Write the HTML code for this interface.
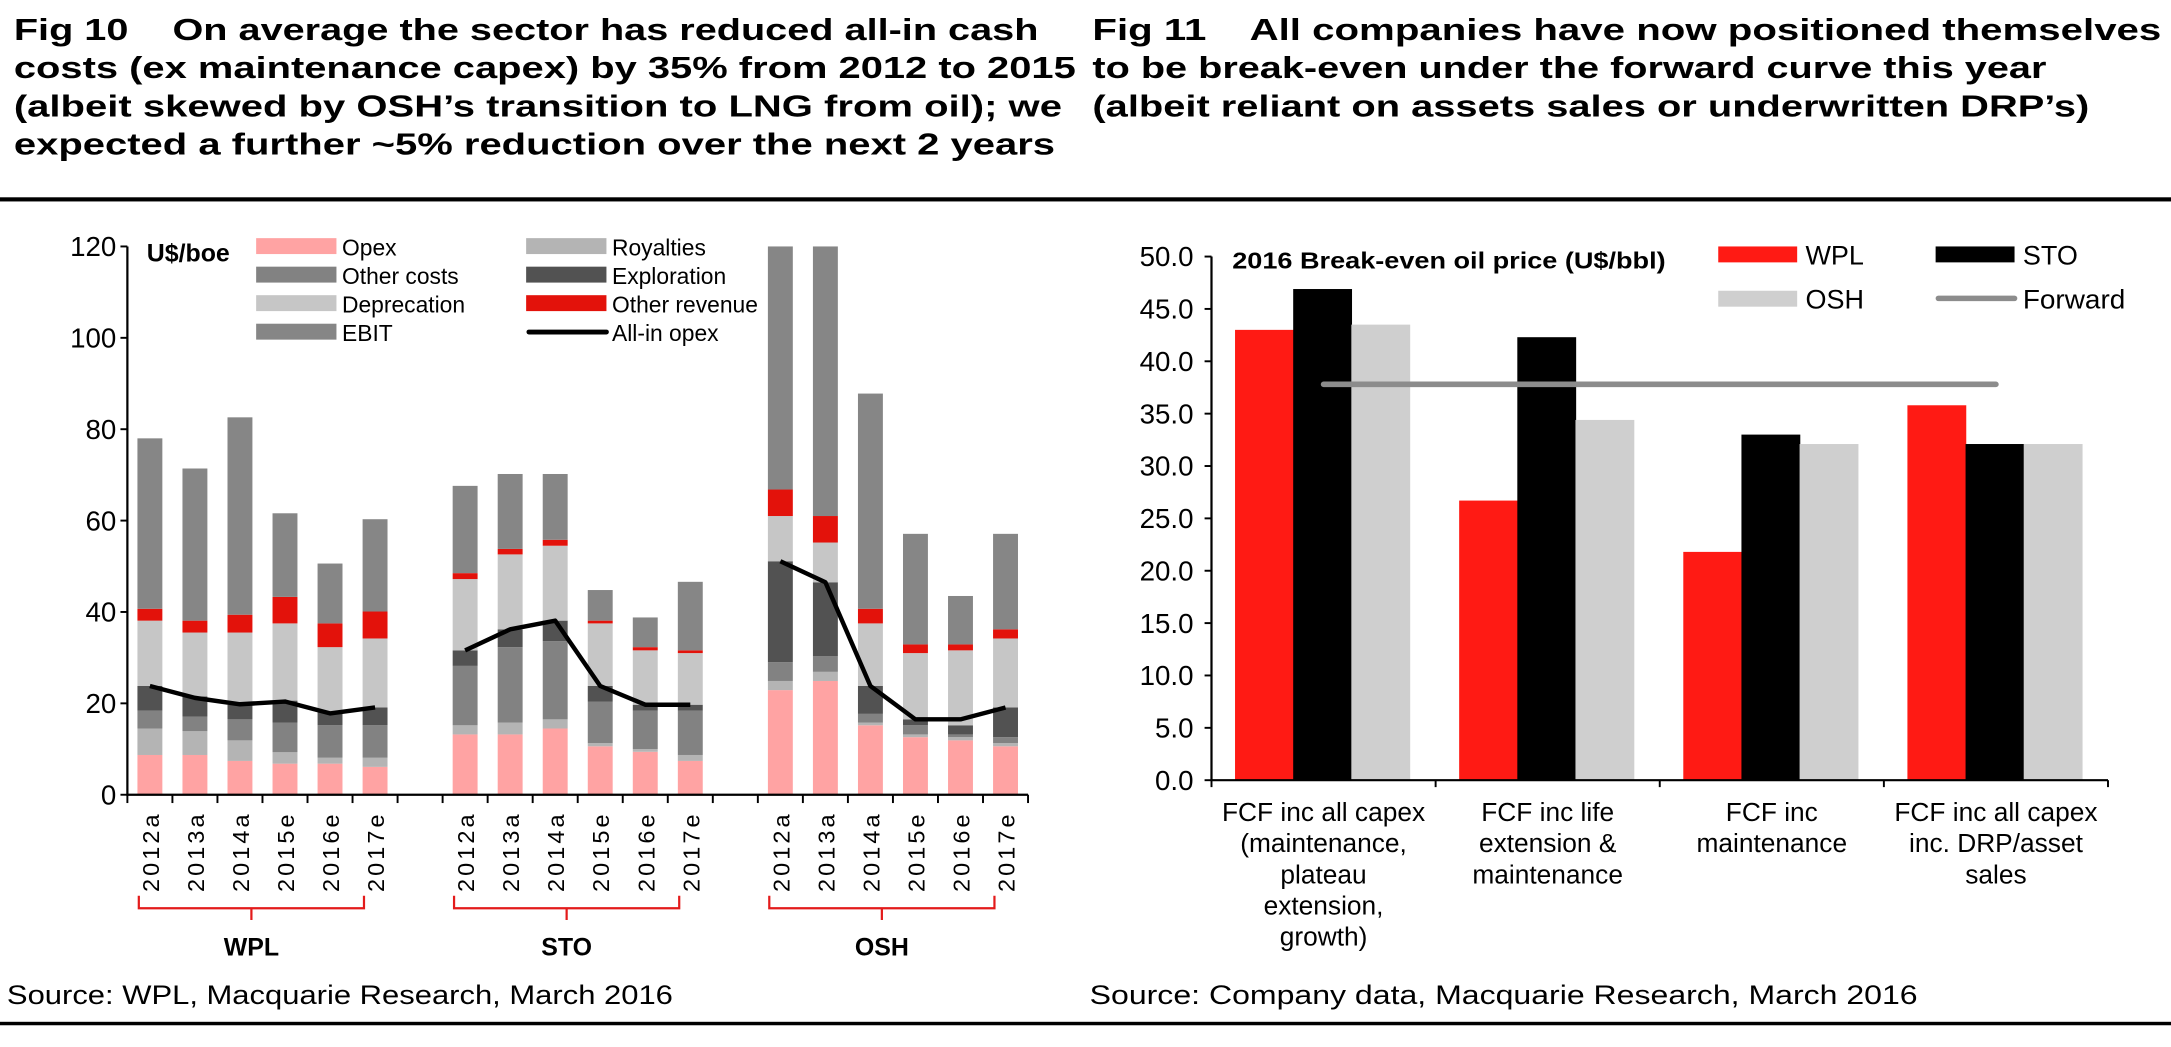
<!DOCTYPE html>
<html><head><meta charset="utf-8"><style>
html,body{margin:0;padding:0;background:#fff;}
svg{display:block;font-family:"Liberation Sans",Arial,sans-serif;}
</style></head><body>
<svg id="root" width="2171" height="1047" viewBox="0 0 1568 756.2" preserveAspectRatio="none" xmlns="http://www.w3.org/2000/svg">
<g font-weight="bold" font-size="22">
<text x="10" y="29" textLength="740" lengthAdjust="spacingAndGlyphs" xml:space="preserve">Fig 10    On average the sector has reduced all-in cash</text>
<text x="10" y="56.5" textLength="767" lengthAdjust="spacingAndGlyphs">costs (ex maintenance capex) by 35% from 2012 to 2015</text>
<text x="10" y="84" textLength="757" lengthAdjust="spacingAndGlyphs">(albeit skewed by OSH’s transition to LNG from oil); we</text>
<text x="10" y="111.5" textLength="752" lengthAdjust="spacingAndGlyphs">expected a further ~5% reduction over the next 2 years</text>
</g>
<g font-weight="bold" font-size="22">
<text x="789" y="29" textLength="772" lengthAdjust="spacingAndGlyphs" xml:space="preserve">Fig 11    All companies have now positioned themselves</text>
<text x="789" y="56.5" textLength="689" lengthAdjust="spacingAndGlyphs">to be break-even under the forward curve this year</text>
<text x="789" y="84" textLength="720" lengthAdjust="spacingAndGlyphs">(albeit reliant on assets sales or underwritten DRP’s)</text>
</g>
<rect x="0" y="142.5" width="1568" height="3" fill="#000"/>
<rect x="0" y="738" width="1568" height="2.5" fill="#000"/>
<text x="5" y="725" font-size="19.5" textLength="481" lengthAdjust="spacingAndGlyphs">Source: WPL, Macquarie Research, March 2016</text>
<text x="787" y="725" font-size="19.5" textLength="598" lengthAdjust="spacingAndGlyphs">Source: Company data, Macquarie Research, March 2016</text>
<g id="left"></g>
<g id="right"></g>
</svg>
<script>
// ---------- Fig 10 data ----------
const years = ['2012a','2013a','2014a','2015e','2016e','2017e'];
const companies = ['WPL','STO','OSH'];
const yTicksL = [0,20,40,60,80,100,120];
const opex        = [8.7,8.7,7.4,6.8,6.8,6.1, 13.2,13.2,14.5,10.6,9.4,7.4, 22.9,24.9,15.2,12.6,11.9,10.6];
const royalties   = [5.8,5.2,4.5,2.5,1.3,2.0, 2.0,2.6,2.0,0.7,0.6,1.3, 2.0,2.0,0.6,0.6,0.7,0.7];
const otherCosts  = [3.9,3.2,4.6,6.5,7.1,7.1, 13.0,16.5,17.1,9.1,8.4,9.7, 4.1,3.4,1.9,2.0,0.6,1.3];
const exploration = [5.4,4.4,3.2,4.8,3.0,3.9, 3.4,3.9,4.5,3.4,1.3,1.3, 22.1,16.2,6.1,1.3,2.0,6.5];
const deprecation = [14.3,14.0,15.8,16.9,14.1,15.1, 15.6,16.4,16.4,13.7,11.9,11.3, 9.9,8.7,13.7,14.5,16.4,15.1];
const otherRevenue= [2.6,2.6,3.9,5.8,5.2,5.9, 1.3,1.2,1.3,0.6,0.7,0.6, 5.8,5.8,3.2,1.9,1.3,2.0];
const ebit        = [37.3,33.3,43.2,18.3,13.1,20.2, 19.1,16.4,14.4,6.7,6.5,15.0, 53.2,59.0,47.1,24.2,10.6,20.9];
const allInOpex   = [23.8,21.2,19.8,20.4,17.8,19.1, 31.6,36.2,38.1,23.8,19.7,19.7, 51.1,46.5,23.8,16.5,16.5,19.1];

// ---------- Fig 11 data ----------
const cats = [['FCF inc all capex','(maintenance,','plateau','extension,','growth)'],['FCF inc life','extension &','maintenance'],['FCF inc','maintenance'],['FCF inc all capex','inc. DRP/asset','sales']];
const wpl = [43.0,26.7,21.8,35.8];
const sto = [46.9,42.3,33.0,32.1];
const osh = [43.5,34.4,32.1,32.1];
const forward = [37.8,37.8,37.8,37.8];
const yTicksR = [0,5,10,15,20,25,30,35,40,45,50];

const NS='http://www.w3.org/2000/svg';
function mk(p,tag,a,txt){const e=document.createElementNS(NS,tag);for(const k in a)e.setAttribute(k,a[k]);if(txt!==undefined)e.textContent=txt;p.appendChild(e);return e;}

// ---- left chart
(function(){
const g=document.getElementById('left');
const X0=92, X1=742.5, Y0=574, Y1=178, slots=20, sw=(X1-X0)/slots, bw=18;
const y=v=>Y0-(v/120)*(Y0-Y1);
const slotOf=i=>Math.floor(i/6)*7+(i%6);
const cx=i=>X0+(slotOf(i)+0.5)*sw;
const series=[[opex,'#FFA3A3','opex'],[royalties,'#B4B4B4','royalties'],[otherCosts,'#828282','other-costs'],[exploration,'#525252','exploration'],[deprecation,'#C6C6C6','deprecation'],[otherRevenue,'#E3120B','other-revenue'],[ebit,'#868686','ebit']];
for(let i=0;i<opex.length;i++){
  let base=0;
  series.forEach(s=>{const v=s[0][i];
    const r=mk(g,'rect',{x:cx(i)-bw/2,y:y(base+v),width:bw,height:y(base)-y(base+v),fill:s[1]});
    
    
    base+=v;});
  const t=mk(g,'text',{x:0,y:0,'font-size':17,'text-anchor':'end','letter-spacing':'2.2',transform:'translate('+(cx(i)+6.5)+',586) rotate(-90)'},years[i%6]);
  
  
}
for(let c=0;c<3;c++){
  let d='';for(let k=0;k<6;k++){const i=c*6+k;d+=(k?'L':'M')+cx(i)+','+y(allInOpex[i]);}
  const p=mk(g,'path',{d:d,fill:'none',stroke:'#000','stroke-width':3.2,'stroke-linejoin':'round'});
  
  
}
const ax=mk(g,'path',{d:'M'+X0+','+Y1+'V'+Y0+'H'+X1,fill:'none',stroke:'#000','stroke-width':1.6});


yTicksL.forEach(v=>{mk(g,'line',{x1:X0-5,x2:X0,y1:y(v),y2:y(v),stroke:'#000','stroke-width':1.4});
  const t=mk(g,'text',{x:84,y:y(v)+7,'font-size':20,'text-anchor':'end'},v);
  
  });
for(let s=0;s<=slots;s++){mk(g,'line',{x1:X0+s*sw,x2:X0+s*sw,y1:Y0,y2:Y0+6,stroke:'#000','stroke-width':1.4});}
for(let c=0;c<3;c++){
  const a=cx(c*6)-8, b=cx(c*6+5)-8, m=(a+b)/2;
  const p=mk(g,'path',{d:'M'+a+',647V656H'+b+'V647M'+m+',656V664.5',fill:'none',stroke:'#E31B1B','stroke-width':1.6});
  
  
  const t=mk(g,'text',{x:m,y:690,'font-size':18,'font-weight':'bold','text-anchor':'middle'},companies[c]);
  
  
}
const u=mk(g,'text',{x:106,y:189,'font-size':18,'font-weight':'bold'},'U$/boe');


const leg=[['Opex','#FFA3A3',185,0],['Other costs','#828282',185,1],['Deprecation','#C6C6C6',185,2],['EBIT','#868686',185,3],['Royalties','#B4B4B4',380,0],['Exploration','#525252',380,1],['Other revenue','#E3120B',380,2]];
leg.forEach(l=>{const yy=172+l[3]*20.6;
  const r=mk(g,'rect',{x:l[2],y:yy,width:58,height:11.5,fill:l[1]});
  
  
  const t=mk(g,'text',{x:l[2]+62,y:yy+12.5,'font-size':16.5},l[0]);
  
  });
const ll=mk(g,'line',{x1:382,x2:438,y1:172+3*20.6+6,y2:172+3*20.6+6,stroke:'#000','stroke-width':3.5,'stroke-linecap':'round'});


const lt=mk(g,'text',{x:442,y:172+3*20.6+12.5,'font-size':16.5},'All-in opex');


})();

// ---- right chart
(function(){
const g=document.getElementById('right');
const X0=875, X1=1522.5, Y0=563.5, Y1=185.3, n=4, gw=(X1-X0)/n, bw=42;
const y=v=>Y0-(v/50)*(Y0-Y1);
const gx=i=>X0+i*gw+17;
const ser=[[wpl,'#FF1A14','wpl'],[sto,'#000000','sto'],[osh,'#CFCFCF','osh']];
for(let i=0;i<n;i++){
  ser.forEach((s,k)=>{const r=mk(g,'rect',{x:gx(i)+k*bw,y:y(s[0][i]),width:bw+0.5,height:Y0-y(s[0][i]),fill:s[1]});
    
    });
  cats[i].forEach((ln,j)=>{const t=mk(g,'text',{x:X0+(i+0.5)*gw,y:593+j*22.5,'font-size':19,'text-anchor':'middle'},ln);
    
    });
}
let d='';forward.forEach((v,i)=>{d+=(i?'L':'M')+(X0+(i+0.5)*gw)+','+y(v);});
const fl=mk(g,'path',{d:d,fill:'none',stroke:'#8C8C8C','stroke-width':4,'stroke-linecap':'round'});


const ax=mk(g,'path',{d:'M'+X0+','+Y1+'V'+Y0+'H'+X1,fill:'none',stroke:'#000','stroke-width':1.6});


yTicksR.forEach(v=>{mk(g,'line',{x1:X0-5,x2:X0,y1:y(v),y2:y(v),stroke:'#000','stroke-width':1.4});
  const t=mk(g,'text',{x:862,y:y(v)+7,'font-size':20,'text-anchor':'end'},v.toFixed(1));
  
  });
for(let i=0;i<=n;i++){mk(g,'line',{x1:X0+i*gw,x2:X0+i*gw,y1:Y0,y2:Y0+5,stroke:'#000','stroke-width':1.4});}
const tt=mk(g,'text',{x:890,y:194,'font-size':17,'font-weight':'bold',textLength:313,lengthAdjust:'spacingAndGlyphs'},'2016 Break-even  oil price (U$/bbl)');


const leg=[['WPL','#FF1A14',1241,178],['STO','#000000',1398,178],['OSH','#CFCFCF',1241,210]];
leg.forEach(l=>{const r=mk(g,'rect',{x:l[2],y:l[3],width:57,height:11.5,fill:l[1]});
  
  
  const t=mk(g,'text',{x:l[2]+63,y:l[3]+13,'font-size':19.5},l[0]);
  
  });
const fls=mk(g,'line',{x1:1400,x2:1455,y1:215.5,y2:215.5,stroke:'#8C8C8C','stroke-width':4,'stroke-linecap':'round'});


const ft=mk(g,'text',{x:1461,y:223,'font-size':19.5,textLength:74,lengthAdjust:'spacingAndGlyphs'},'Forward');


})();
</script>
</body></html>
